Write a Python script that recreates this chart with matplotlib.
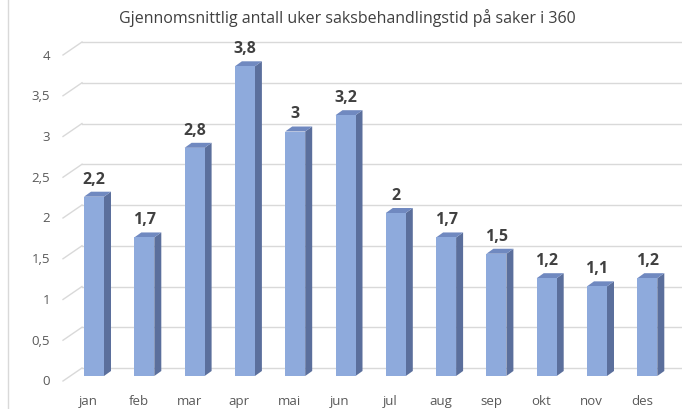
import matplotlib
matplotlib.use("Agg")
import matplotlib.pyplot as plt
from matplotlib.patches import Polygon

months = ["jan", "feb", "mar", "apr", "mai", "jun", "jul", "aug", "sep", "okt", "nov", "des"]
weeks = [2.2, 1.7, 2.8, 3.8, 3.0, 3.2, 2.0, 1.7, 1.5, 1.2, 1.1, 1.2]
yticks = [0, 0.5, 1, 1.5, 2, 2.5, 3, 3.5, 4]
title = "Gjennomsnittlig antall uker saksbehandlingstid på saker i 360"

FRONT = "#8eaadc"
SIDE = "#5b6f9c"
TOP = "#7089c0"
GRID = "#d9d9d9"
TXT = "#595959"

plt.rcParams["font.family"] = ["Open Sans", "DejaVu Sans"]

W, H = 682, 410
fig = plt.figure(figsize=(W / 100, H / 100), dpi=100)

# axes in pixel units: bar base at y=377, jan centre at x=94
px_x = 50.3   # px per category
px_y = 81.5   # px per unit
left_px, base_px = 63, 377
x0 = -(94 - left_px) / px_x
x1 = x0 + (W - left_px) / px_x
y1 = 4.5
ax = fig.add_axes([left_px / W, (H - base_px) / H, (W - left_px) / W, y1 * px_y / H])
ax.set_xlim(x0, x1)
ax.set_ylim(0, y1)
ax.axis("off")

# depth offsets (data units)
wall_dx = 19 / px_x
front_dy, back_dy = -5 / px_y, 8 / px_y
bar_dx, bar_dy = 7 / px_x, 5 / px_y
bw = 20 / px_x

# back-wall gridlines + diagonal side lines
for t in yticks:
    ax.plot([x0, x0 + wall_dx], [t + front_dy, t + back_dy], color=GRID, lw=1, clip_on=False)
    ax.plot([x0 + wall_dx, x1], [t + back_dy, t + back_dy], color=GRID, lw=1, clip_on=False)
    ax.text(x0 - 13 / px_x, t + front_dy, f"{t:g}".replace(".", ","), ha="right", va="center",
            fontsize=9.5, color=TXT, clip_on=False)

# 3D bars
for i, v in enumerate(weeks):
    xl, xr = i - bw / 2, i + bw / 2
    ax.add_patch(Polygon([(xr, 0), (xr + bar_dx, bar_dy), (xr + bar_dx, v + bar_dy), (xr, v)],
                         closed=True, fc=SIDE, ec="none", zorder=3))
    ax.add_patch(Polygon([(xl, v), (xr, v), (xr + bar_dx, v + bar_dy), (xl + bar_dx, v + bar_dy)],
                         closed=True, fc=TOP, ec="none", zorder=3))
    ax.bar(i, v, width=bw, color=FRONT, zorder=4)
    ax.text(i, v + 14 / px_y, f"{v:g}".replace(".", ","), ha="center", va="baseline",
            fontsize=11.5, fontweight="bold", color="#404040", zorder=5)
    ax.text(i - 5.5 / px_x, -25 / px_y, months[i], ha="center", va="center",
            fontsize=9.5, color=TXT, clip_on=False)

fig.text(347 / W, 1 - 18 / H, title, ha="center", va="center", fontsize=11.5, color="#404040")

# chart border (left edge visible)
fig.add_artist(plt.Line2D([8 / W, 8 / W], [0, 1], color=GRID, lw=1))

fig.savefig("out.png", dpi=100)
